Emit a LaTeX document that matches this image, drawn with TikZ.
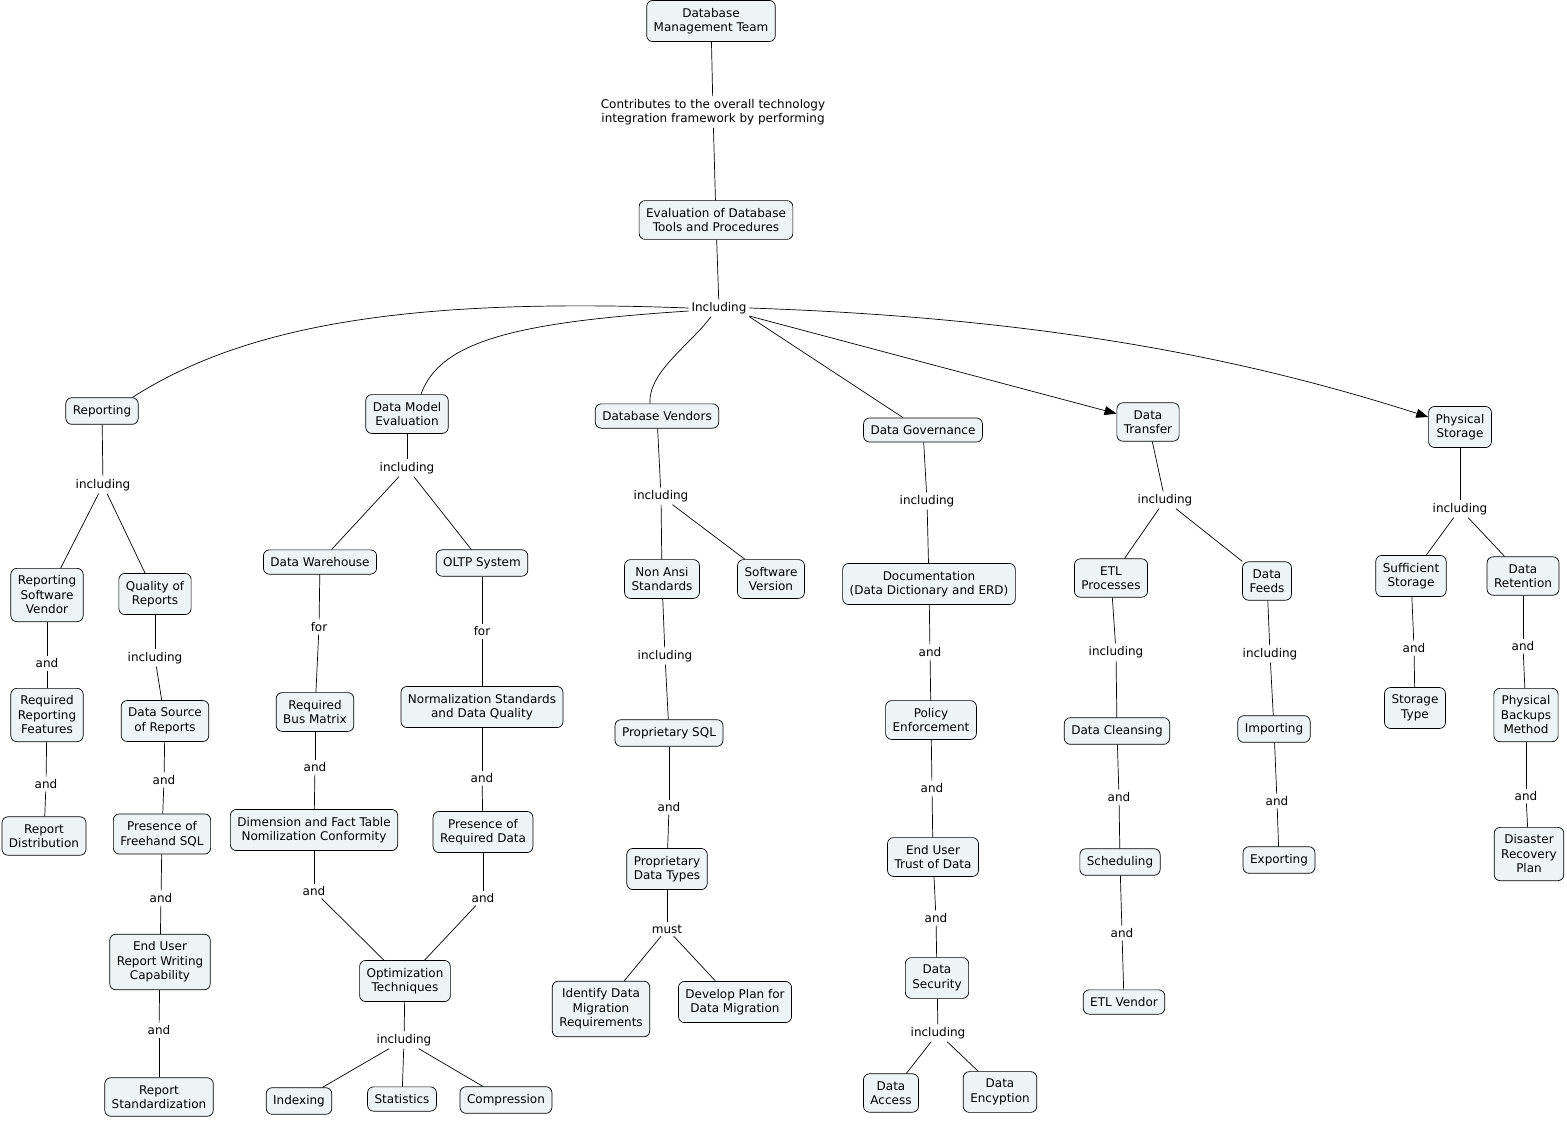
\documentclass[tikz,border=0pt]{standalone}
\usepackage{fontspec}
\setmainfont{DejaVu Sans}
\usetikzlibrary{arrows.meta}
\definecolor{cfill}{RGB}{238,244,246}
\newcommand{\mapfont}{\fontsize{12}{14.5}\selectfont}

\begin{document}
\begin{tikzpicture}[x=1pt,y=-1pt,line width=0.7pt,
    concept/.style={draw,rounded corners=6pt,fill=cfill,align=center,inner xsep=7pt,inner ysep=7.5pt,font=\mapfont},
    link/.style={align=center,inner sep=2.5pt,font=\mapfont},
    arr/.style={-{Triangle[length=12pt,width=9pt]}}]
    \useasboundingbox (0,0) rectangle (1567,1120);
    % top
    \node[concept](dmt) at (711,21){Database\\Management Team};
    \node[link](l0) at (713,112){Contributes to the overall technology\\integration framework by performing};
    \node[concept](evl) at (716,220){Evaluation of Database\\Tools and Procedures};
    \node[link](inc) at (719,308){Including};
    \draw(dmt)--(l0);
    \draw(l0)--(evl);
    \draw(evl)--(inc);
    % main branches
    \node[concept](rep) at (102,411){Reporting};
    \node[concept](dme) at (407,414){Data Model\\Evaluation};
    \node[concept](dbv) at (657,416){Database Vendors};
    \node[concept](dgv) at (923,430){Data Governance};
    \node[concept](dtr) at (1148,422){Data\\Transfer};
    \node[concept](pst) at (1460,427){Physical\\Storage};
    \draw(inc.west) .. controls (420,298) and (250,322) .. ([xshift=-6pt]rep.north east);
    \draw([yshift=-3pt]inc.west) .. controls (520,322) and (440,340) .. ([xshift=14pt]dme.north);
    \draw([xshift=-8pt]inc.south) .. controls (690,345) and (648,372) .. ([xshift=-7pt]dbv.north);
    \draw(inc.south east)--([xshift=-20pt]dgv.north);
    \draw[arr](inc)--(dtr);
    \draw[arr](inc.east) .. controls (1050,318) and (1250,360) .. ([yshift=10pt]pst.west);
    % reporting
    \node[link](rInc) at (103,485){including};
    \node[concept](rsv) at (47,595){Reporting\\Software\\Vendor};
    \node[concept](qor) at (155,594){Quality of\\Reports};
    \node[link](rAnd1) at (47,663){and};
    \node[concept](rrf) at (47,715){Required\\Reporting\\Features};
    \node[link](rAnd2) at (46,784){and};
    \node[concept](rdst) at (44,836){Report\\Distribution};
    \node[link](qInc) at (155,658){including};
    \node[concept](dsr) at (165,721){Data Source\\of Reports};
    \node[link](qAnd1) at (164,780){and};
    \node[concept](pfs) at (162,834){Presence of\\Freehand SQL};
    \node[link](qAnd2) at (161,898){and};
    \node[concept](eur) at (160,962){End User\\Report Writing\\Capability};
    \node[link](qAnd3) at (159,1030){and};
    \node[concept](rstd) at (159,1097){Report\\Standardization};
    % data model evaluation
    \node[link](dInc) at (407,468){including};
    \node[concept](dwh) at (320,562){Data Warehouse};
    \node[concept](oltp) at (482,563){OLTP System};
    \node[link](dFor1) at (319,627){for};
    \node[concept](rbm) at (315,712){Required\\Bus Matrix};
    \node[link](dAnd1) at (315,767){and};
    \node[concept](dft) at (314,830){Dimension and Fact Table\\Nomilization Conformity};
    \node[link](dFor2) at (482,631){for};
    \node[concept](nsd) at (482,707){Normalization Standards\\and Data Quality};
    \node[link](dAnd2) at (482,778){and};
    \node[concept](prd) at (483,832){Presence of\\Required Data};
    \node[link](dAnd3) at (314,891){and};
    \node[link](dAnd4) at (483,898){and};
    \node[concept](opt) at (405,981){Optimization\\Techniques};
    \node[link](oInc) at (404,1040){including};
    \node[concept](idx) at (299,1101){Indexing};
    \node[concept](sta) at (402,1099){Statistics};
    \node[concept](cmp) at (506,1100){Compression};
    % database vendors
    \node[link](vInc) at (661,496){including};
    \node[concept](nas) at (662,579){Non Ansi\\Standards};
    \node[concept](swv) at (771,579){Software\\Version};
    \node[link](vInc2) at (665,656){including};
    \node[concept](psql) at (669,733){Proprietary SQL};
    \node[link](vAnd) at (669,807){and};
    \node[concept](pdt) at (667,869){Proprietary\\Data Types};
    \node[link](vMust) at (667,929){must};
    \node[concept](idm) at (601,1009){Identify Data\\Migration\\Requirements};
    \node[concept](dpm) at (735,1002){Develop Plan for\\Data Migration};
    % data governance
    \node[link](gInc) at (927,501){including};
    \node[concept](doc) at (929,584){Documentation\\(Data Dictionary and ERD)};
    \node[link](gAnd1) at (930,652){and};
    \node[concept](pen) at (931,720){Policy\\Enforcement};
    \node[link](gAnd2) at (932,788){and};
    \node[concept](eut) at (933,857){End User\\Trust of Data};
    \node[link](gAnd3) at (936,918){and};
    \node[concept](dsec) at (937,978){Data\\Security};
    \node[link](gInc2) at (938,1033){including};
    \node[concept](dacc) at (891,1093){Data\\Access};
    \node[concept](denc) at (1000,1092){Data\\Encyption};
    % data transfer
    \node[link](tInc) at (1165,500){including};
    \node[concept](etl) at (1111,578){ETL\\Processes};
    \node[concept](dfd) at (1267,581){Data\\Feeds};
    \node[link](tInc2) at (1116,652){including};
    \node[concept](dcl) at (1117,731){Data Cleansing};
    \node[link](tAnd1) at (1119,797){and};
    \node[concept](sch) at (1120,862){Scheduling};
    \node[link](tAnd2) at (1122,933){and};
    \node[concept](etlv) at (1124,1002){ETL Vendor};
    \node[link](tInc3) at (1270,654){including};
    \node[concept](imp) at (1274,729){Importing};
    \node[link](tAnd3) at (1277,801){and};
    \node[concept](exp) at (1279,860){Exporting};
    % physical storage
    \node[link](pInc) at (1460,509){including};
    \node[concept](sst) at (1411,576){Sufficient\\Storage};
    \node[concept](drt) at (1523,576){Data\\Retention};
    \node[link](pAnd1) at (1414,648){and};
    \node[concept](stt) at (1415,708){Storage\\Type};
    \node[link](pAnd2) at (1523,646){and};
    \node[concept](pbm) at (1526,715){Physical\\Backups\\Method};
    \node[link](pAnd3) at (1526,796){and};
    \node[concept](drp) at (1529,854){Disaster\\Recovery\\Plan};
    % connectors
    \foreach \a/\b in {rep/rInc,rInc/rsv,rInc/qor,rsv/rAnd1,rAnd1/rrf,rrf/rAnd2,rAnd2/rdst,
        qor/qInc,qInc/dsr,dsr/qAnd1,qAnd1/pfs,pfs/qAnd2,qAnd2/eur,eur/qAnd3,qAnd3/rstd,
        dme/dInc,dInc/dwh,dInc/oltp,dwh/dFor1,dFor1/rbm,rbm/dAnd1,dAnd1/dft,dft/dAnd3,dAnd3/opt,
        oltp/dFor2,dFor2/nsd,nsd/dAnd2,dAnd2/prd,prd/dAnd4,dAnd4/opt,opt/oInc,oInc/idx,oInc/sta,oInc/cmp,
        dbv/vInc,vInc/nas,vInc/swv,nas/vInc2,vInc2/psql,psql/vAnd,vAnd/pdt,pdt/vMust,vMust/idm,vMust/dpm,
        dgv/gInc,gInc/doc,doc/gAnd1,gAnd1/pen,pen/gAnd2,gAnd2/eut,eut/gAnd3,gAnd3/dsec,dsec/gInc2,gInc2/dacc,gInc2/denc,
        dtr/tInc,tInc/etl,tInc/dfd,etl/tInc2,tInc2/dcl,dcl/tAnd1,tAnd1/sch,sch/tAnd2,tAnd2/etlv,
        dfd/tInc3,tInc3/imp,imp/tAnd3,tAnd3/exp,
        pst/pInc,pInc/sst,pInc/drt,sst/pAnd1,pAnd1/stt,drt/pAnd2,pAnd2/pbm,pbm/pAnd3,pAnd3/drp}
        \draw(\a)--(\b);
\end{tikzpicture}
\end{document}
